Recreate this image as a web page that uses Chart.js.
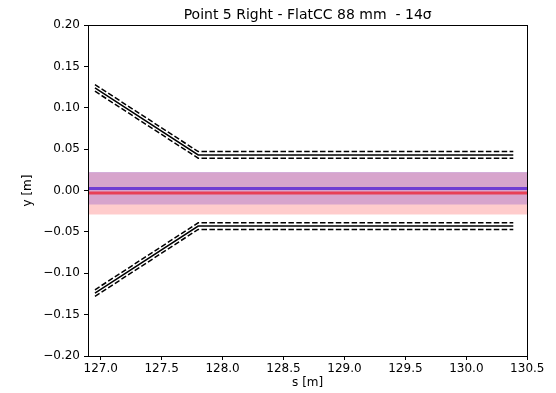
<!DOCTYPE html>
<html>
<head>
<meta charset="utf-8">
<script src="https://cdn.jsdelivr.net/npm/chart.js@4/dist/chart.umd.min.js"></script>
<style>
  html, body { margin: 0; padding: 0; background: #fff; }
  #wrap { width: 556px; height: 393px; }
</style>
</head>
<body>
<div id="wrap"><canvas id="beamChart"></canvas></div>
<script>
// Axis limits and ticks
const sMin = 126.896;
const sMax = 130.5;
const sTicks = [127.0, 127.5, 128.0, 128.5, 129.0, 129.5, 130.0, 130.5];
const yTicks = [-0.20, -0.15, -0.10, -0.05, 0.00, 0.05, 0.10, 0.15, 0.20];

// Aperture (black) lines
const apertureS = [126.953, 127.80, 130.385];
const upperOuter = [0.128, 0.047, 0.047];
const upperCentre = [0.124, 0.043, 0.043];
const upperInner = [0.120, 0.039, 0.039];
const lowerInner = [-0.120, -0.039, -0.039];
const lowerCentre = [-0.124, -0.043, -0.043];
const lowerOuter = [-0.128, -0.047, -0.047];

// Beam envelopes and orbits
const bandS = [sMin, sMax];
const blueOrbit = [0.0025, 0.0025];
const blueTop = [0.0225, 0.0225];
const blueBottom = [-0.0170, -0.0170];
const redOrbit = [-0.0030, -0.0030];
const redTop = [0.0220, 0.0220];
const redBottom = [-0.0290, -0.0290];

const font = 'DejaVu Sans';

function pts(xs, ys) {
  return xs.map((x, i) => ({ x: x, y: ys[i] }));
}

function blackLine(ys, dashed) {
  return {
    data: pts(apertureS, ys),
    borderColor: '#000',
    borderWidth: 1.5,
    borderDash: dashed ? [5.5, 2.4] : [],
    pointRadius: 0,
    fill: false,
    order: 0
  };
}

// Draw the top and right spines too
const framePlugin = {
  id: 'frame',
  afterDraw(chart) {
    const a = chart.chartArea;
    const ctx = chart.ctx;
    ctx.save();
    ctx.strokeStyle = '#000';
    ctx.lineWidth = 1;
    ctx.strokeRect(Math.round(a.left) + 0.5, Math.round(a.top) + 0.5,
      Math.round(a.right - a.left), Math.round(a.bottom - a.top));
    ctx.restore();
  }
};

const datasets = [
  blackLine(upperOuter, true),
  blackLine(upperCentre, false),
  blackLine(upperInner, true),
  blackLine(lowerInner, true),
  blackLine(lowerCentre, false),
  blackLine(lowerOuter, true),
  // orbits
  { data: pts(bandS, redOrbit), borderColor: 'rgb(232,64,86)', borderWidth: 3, pointRadius: 0, fill: false, order: 1 },
  { data: pts(bandS, blueOrbit), borderColor: 'rgb(112,60,210)', borderWidth: 3, pointRadius: 0, fill: false, order: 2 },
  // red envelope (drawn over the blue one)
  { data: pts(bandS, redTop), borderWidth: 0, pointRadius: 0, fill: false, order: 3 },
  { data: pts(bandS, redBottom), borderWidth: 0, pointRadius: 0, fill: '-1', backgroundColor: 'rgba(255,0,0,0.2)', order: 3 },
  // blue envelope
  { data: pts(bandS, blueTop), borderWidth: 0, pointRadius: 0, fill: false, order: 4 },
  { data: pts(bandS, blueBottom), borderWidth: 0, pointRadius: 0, fill: '-1', backgroundColor: 'rgba(0,0,255,0.2)', order: 4 }
];

new Chart(document.getElementById('beamChart'), {
  type: 'line',
  data: { datasets: datasets },
  plugins: [framePlugin],
  options: {
    responsive: true,
    maintainAspectRatio: false,
    animation: false,
    layout: { padding: { left: 21, right: 28.7, top: 0, bottom: 0 } },
    plugins: {
      legend: { display: false },
      tooltip: { enabled: false },
      filler: { drawTime: 'beforeDatasetsDraw' },
      title: {
        display: true,
        fullSize: false,
        text: 'Point 5 Right - FlatCC 88 mm  - 14\u03c3',
        color: '#000',
        font: { family: font, size: 14, weight: 'normal' },
        padding: { top: 7, bottom: 1.2 }
      }
    },
    scales: {
      x: {
        type: 'linear',
        min: sMin,
        max: sMax,
        afterBuildTicks: (scale) => { scale.ticks = sTicks.map(v => ({ value: v })); },
        afterFit: (scale) => { scale.height = 37; },
        grid: { drawOnChartArea: false, drawTicks: true, tickLength: 4, color: '#000' },
        border: { display: true, color: '#000', width: 1 },
        ticks: {
          color: '#000',
          padding: 2,
          maxRotation: 0,
          autoSkip: false,
          font: { family: font, size: 12 },
          callback: (v) => v.toFixed(1)
        },
        title: {
          display: true,
          text: 's [m]',
          color: '#000',
          font: { family: font, size: 12 },
          padding: { top: 0, bottom: 3 }
        }
      },
      y: {
        type: 'linear',
        min: -0.2,
        max: 0.2,
        afterBuildTicks: (scale) => { scale.ticks = yTicks.map(v => ({ value: v })); },
        afterFit: (scale) => { scale.width = 67; },
        grid: { drawOnChartArea: false, drawTicks: true, tickLength: 4, color: '#000' },
        border: { display: true, color: '#000', width: 1 },
        ticks: {
          color: '#000',
          padding: 4,
          autoSkip: false,
          font: { family: font, size: 12 },
          callback: (v) => (v < -1e-9 ? '\u2212' : '') + Math.abs(v).toFixed(2)
        },
        title: {
          display: true,
          text: 'y [m]',
          color: '#000',
          font: { family: font, size: 12 },
          padding: { top: 0, bottom: 2 }
        }
      }
    }
  }
});
</script>
</body>
</html>
